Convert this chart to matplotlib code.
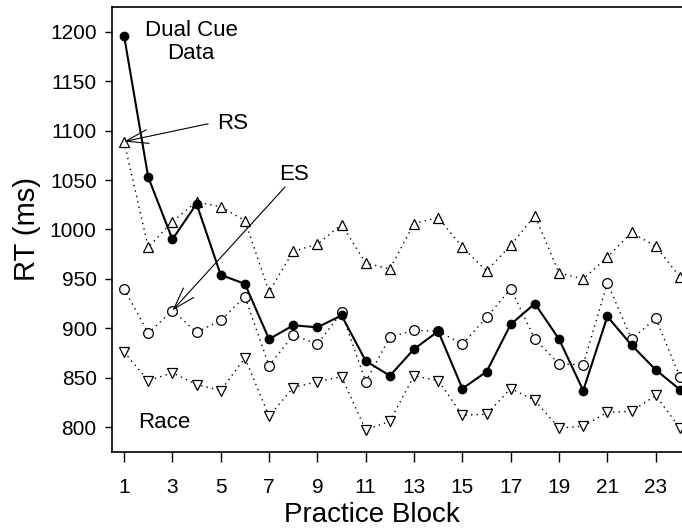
import matplotlib.pyplot as plt

plt.rcParams['font.family'] = ['Liberation Sans', 'DejaVu Sans']

# practice blocks 1..24, mean RT per block (ms)
blocks = list(range(1, 25))
data_rt = [1196, 1053, 990, 1026, 954, 945, 889, 903, 901, 913, 867, 852,
           879, 897, 839, 856, 904, 925, 889, 837, 912, 883, 858, 838]
rs_rt = [1089, 982, 1008, 1028, 1023, 1009, 937, 978, 985, 1005, 966, 960,
         1006, 1012, 982, 958, 984, 1014, 956, 950, 972, 997, 983, 952]
es_rt = [940, 895, 918, 896, 908, 932, 862, 893, 884, 916, 846, 891,
         898, 897, 884, 911, 940, 889, 864, 863, 946, 889, 910, 851]
race_rt = [876, 847, 855, 843, 837, 870, 811, 840, 846, 851, 797, 806,
           852, 847, 812, 813, 839, 827, 799, 801, 815, 816, 832, 799]

xticks = list(range(1, 24, 2))
yticks = list(range(800, 1201, 50))

fig = plt.figure(figsize=(6.82, 5.30), dpi=100)
# the right edge runs past the figure, so the last block sits on the border
ax = fig.add_axes([0.1642, 0.147, 0.8504, 0.840])

dots = (0, (1, 3))
ax.plot(blocks, rs_rt, linestyle=dots, color='black', lw=1,
        marker='^', ms=6.5, mfc='white', mec='black', mew=0.9, clip_on=False)
ax.plot(blocks, race_rt, linestyle=dots, color='black', lw=1,
        marker='v', ms=6.5, mfc='white', mec='black', mew=0.9, clip_on=False)
ax.plot(blocks, es_rt, linestyle=dots, color='black', lw=1,
        marker='o', ms=7, mfc='white', mec='black', mew=0.9, clip_on=False)
ax.plot(blocks, data_rt, '-', color='black', lw=1.5,
        marker='o', ms=6, mfc='black', mec='black', clip_on=False)

ax.set_xlim(0.5, 24.5)
ax.set_ylim(774.7, 1225.3)
ax.set_xticks(xticks)
ax.set_yticks(yticks)
ax.tick_params(direction='out', length=5, width=1, labelsize=15)
ax.tick_params(axis='y', pad=6)
ax.tick_params(axis='x', length=7, pad=12)
for side in ['left', 'bottom', 'top', 'right']:
    ax.spines[side].set_linewidth(1.2)

ax.set_xlabel('Practice Block', fontsize=20)
ax.xaxis.set_label_coords(0.448, -0.112)
ax.set_ylabel('RT (ms)', fontsize=21, labelpad=6)

ax.text(3.77, 1190, 'Dual Cue\nData', ha='center', va='center', fontsize=16,
        linespacing=1.15)
ax.text(5.51, 1107, 'RS', ha='center', va='center', fontsize=16)
ax.text(8.03, 1056, 'ES', ha='center', va='center', fontsize=16)
ax.text(2.65, 805, 'Race', ha='center', va='center', fontsize=16)

arrow = dict(arrowstyle='->,head_length=0.8,head_width=0.25', color='black',
             lw=0.8, mutation_scale=20, shrinkA=0, shrinkB=0)
ax.annotate('', xy=(1, rs_rt[0]), xytext=(4.48, 1107), arrowprops=arrow)
ax.annotate('', xy=(3, es_rt[2]), xytext=(7.66, 1043), arrowprops=arrow)

fig.savefig('out.png', dpi=100)
